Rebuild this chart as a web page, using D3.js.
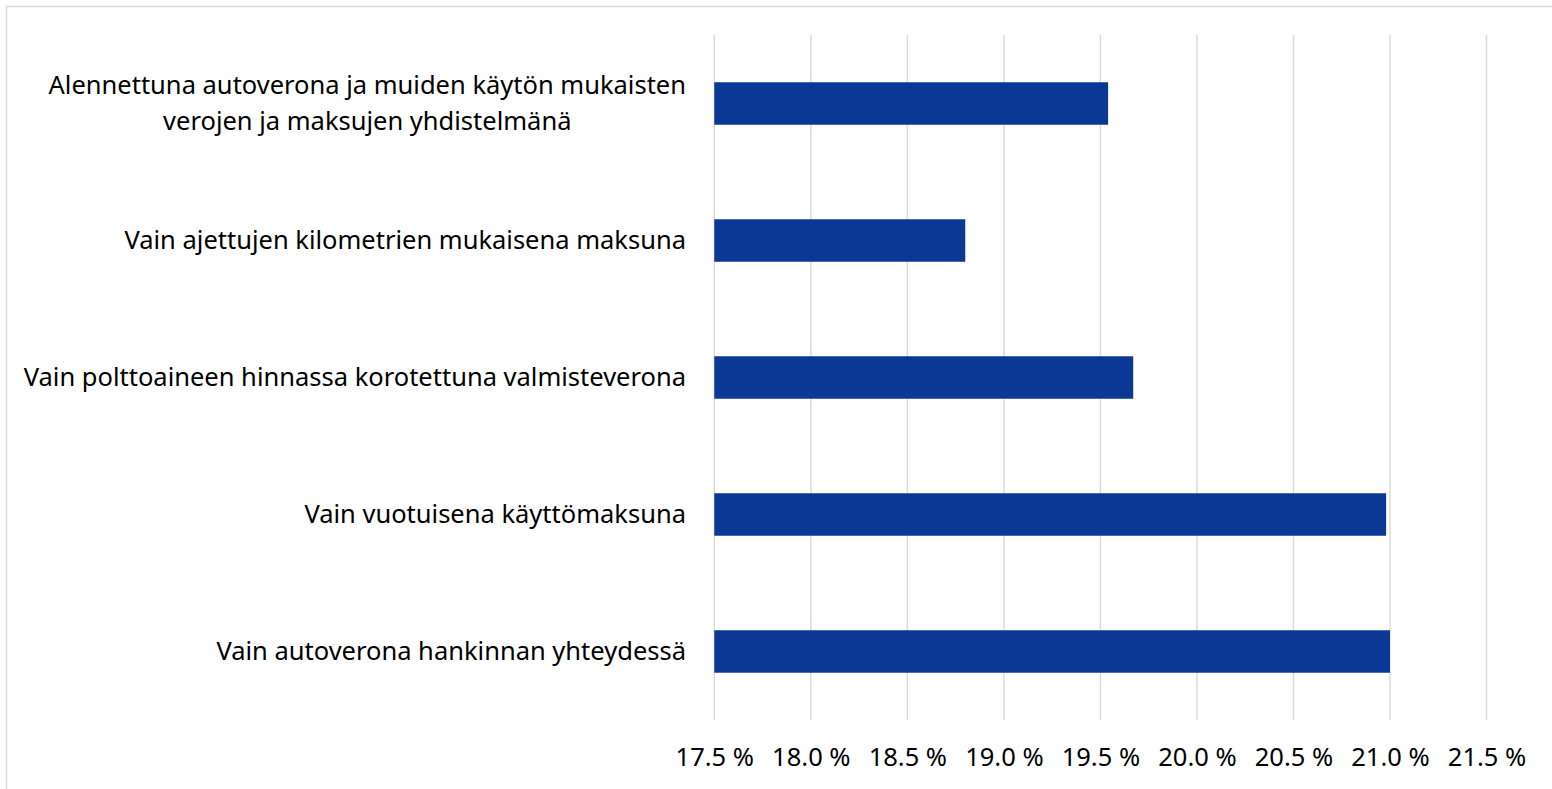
<!DOCTYPE html>
<html>
<head>
<meta charset="utf-8">
<script src="https://cdn.jsdelivr.net/npm/d3@7"></script>
<style>
  body { margin: 0; background: #fff; }
  text { font-family: "Noto Sans", sans-serif; fill: #000; }
</style>
</head>
<body>
<div id="chart"></div>
<script>
var width = 1552,
height = 789;

// categories top to bottom, wrapped lines kept as separate strings
var categories = [
  ["Alennettuna autoverona ja muiden käytön mukaisten", "verojen ja maksujen yhdistelmänä"],
  ["Vain ajettujen kilometrien mukaisena maksuna"],
  ["Vain polttoaineen hinnassa korotettuna valmisteverona"],
  ["Vain vuotuisena käyttömaksuna"],
  ["Vain autoverona hankinnan yhteydessä"]
];
var values = [19.54, 18.80, 19.67, 20.98, 21.00];
var ticks = [17.5, 18.0, 18.5, 19.0, 19.5, 20.0, 20.5, 21.0, 21.5];

var fontSize = 25.5;

var xScale = d3.scaleLinear().
domain([17.5, 21.5]).
range([714.3, 1486.5]);

var yScale = d3.scaleBand().
domain(d3.range(categories.length)).
range([35, 720]).
paddingInner(0.69).
paddingOuter(0.345);

const svg = d3.select('#chart').
append('svg').
attr('width', width).
attr('height', height);

// chart area border (continues past right/bottom edge)
svg.append('rect').
attr('x', 6.5).
attr('y', 6.5).
attr('width', 1600).
attr('height', 850).
attr('fill', 'none').
attr('stroke', '#d9d9d9').
attr('stroke-width', 1.5);

// gridlines
svg.append('g').
selectAll('line').
data(ticks).
enter().
append('line').
attr('x1', d => xScale(d)).
attr('x2', d => xScale(d)).
attr('y1', 35).
attr('y2', 720).
attr('stroke', '#d9d9d9').
attr('stroke-width', 1.4);

svg.selectAll('rect.bar').
data(values).
enter().
append('rect').
attr('class', 'bar').
attr('x', xScale(17.5)).
attr('y', (d, i) => yScale(i)).
attr('width', d => xScale(d) - xScale(17.5)).
attr('height', yScale.bandwidth()).
attr('fill', '#0b3795');

const xAxis = d3.axisBottom(xScale).
tickValues(ticks).
tickSize(0).
tickPadding(0).
tickFormat(d => d3.format(".1f")(d) + " %");

const gx = svg.append('g').
attr('id', 'x-axis').
attr('transform', 'translate(0,748)').
call(xAxis);
gx.select('.domain').remove();
gx.selectAll('text').
attr('font-size', fontSize).
attr('font-family', '"Noto Sans", sans-serif').
attr('fill', '#000');

// category labels, right aligned; wrapped lines centred inside their box
var labelRight = 686,
lineHeight = 36;
var labels = svg.append('g').attr('id', 'y-axis');
categories.forEach((lines, i) => {
  var cy = yScale(i) + yScale.bandwidth() / 2;
  var t = labels.append('text').
  attr('font-size', fontSize).
  attr('text-anchor', lines.length > 1 ? 'middle' : 'end');
  lines.forEach((ln, j) => {
    t.append('tspan').
    attr('x', labelRight).
    attr('y', cy + (j - (lines.length - 1) / 2) * lineHeight).
    attr('dy', '0.35em').
    text(ln);
  });
  if (lines.length > 1) {
    var w = d3.max(t.selectAll('tspan').nodes(), n => n.getComputedTextLength());
    t.selectAll('tspan').attr('x', labelRight - w / 2);
  }
});
</script>
</body>
</html>
